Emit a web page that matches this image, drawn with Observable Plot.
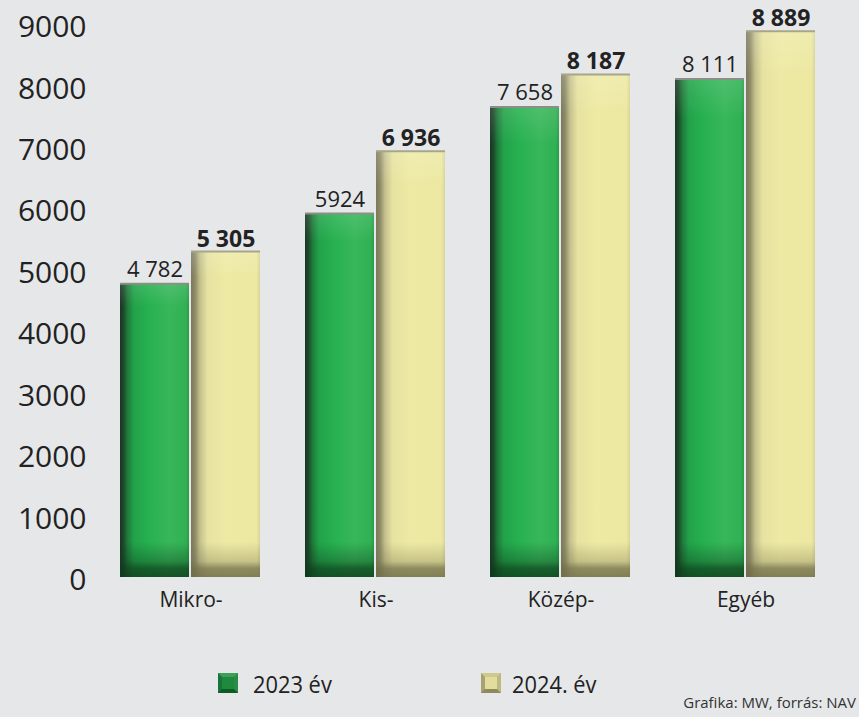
<!DOCTYPE html>
<html>
<head>
<meta charset="utf-8">
<script src="https://cdn.jsdelivr.net/npm/d3@7"></script>
<script src="https://cdn.jsdelivr.net/npm/@observablehq/plot@0.6"></script>
<style>
  html, body { margin: 0; padding: 0; background: #e6e7e9; }
  body { width: 859px; height: 717px; overflow: hidden; font-family: "Open Sans", sans-serif; color: #222; }
  #chart svg { display: block; background: #e6e7e9; }
  #legend { position: relative; width: 859px; height: 77px; }
  .sw { position: absolute; width: 20px; height: 20px; box-sizing: border-box; border-width: 4px; border-style: solid; }
  .lt { position: absolute; font-size: 24px; line-height: 28px; color: #222; transform-origin: 0 50%; transform: scaleX(0.91); white-space: nowrap; }
  #cap { position: absolute; right: 3px; font-size: 15px; line-height: 18px; color: #333; white-space: nowrap; }
</style>
</head>
<body>
<div id="chart"></div>
<div id="legend">
  <div class="sw" style="left:218px; top:33px; background:#1d8a3d; border-color:#3f9f5a #2a8d46 #0f5a24 #17743a;"></div>
  <div class="lt" style="left:253px; top:30px;">2023 év</div>
  <div class="sw" style="left:481px; top:33px; background:#e3dd9c; border-color:#cfc98e #beb882 #8f8a5e #a8a272;"></div>
  <div class="lt" style="left:512px; top:30px;">2024. év</div>
  <div id="cap" style="top:53px;">Grafika: MW, forrás: NAV</div>
</div>
<script>
const categories = ["Mikro-", "Kis-", "Közép-", "Egyéb"];
const years = ["2023 év", "2024. év"];
const values2023 = [4782, 5924, 7658, 8111];
const values2024 = [5305, 6936, 8187, 8889];
const labels2023 = ["4 782", "5924", "7 658", "8 111"];
const labels2024 = ["5 305", "6 936", "8 187", "8 889"];
const yTicks = [0, 1000, 2000, 3000, 4000, 5000, 6000, 7000, 8000, 9000];

const rows23 = categories.map((c, i) => ({cat: c, year: years[0], value: values2023[i], label: labels2023[i]}));
const rows24 = categories.map((c, i) => ({cat: c, year: years[1], value: values2024[i], label: labels2024[i]}));

const chart = Plot.plot({
  width: 859,
  height: 640,
  marginLeft: 117,
  marginRight: 39,
  marginTop: 24,
  marginBottom: 63,
  style: {fontFamily: "'Open Sans', sans-serif", background: "#e6e7e9", color: "#222"},
  fx: {domain: categories, paddingInner: 0.216, paddingOuter: 0, label: null, axis: null},
  x: {domain: years, padding: 0.028, axis: null},
  y: {domain: [0, 9000], axis: null},
  marks: [
    Plot.axisY({ticks: yTicks, tickSize: 0, tickPadding: 32, fontSize: 30, dy: 3, tickFormat: d => String(d), label: null, anchor: "left", fill: "#222"}),
    Plot.axisFx({anchor: "bottom", tickSize: 0, tickPadding: 15, fontSize: 21, label: null, fill: "#222"}),
    Plot.barY(rows23, {fx: "cat", x: "year", y: "value", fill: "url(#g23h)"}),
    Plot.barY(rows24, {fx: "cat", x: "year", y: "value", fill: "url(#g24h)"}),
    Plot.barY(rows23, {fx: "cat", x: "year", y: "value", fill: "url(#g23v)"}),
    Plot.barY(rows24, {fx: "cat", x: "year", y: "value", fill: "url(#g24v)"}),
    Plot.barY(rows23, {fx: "cat", x: "year", y: "value", fill: "url(#g23t)"}),
    Plot.barY(rows24, {fx: "cat", x: "year", y: "value", fill: "url(#g24t)"}),
    Plot.tickY(rows23, {fx: "cat", x: "year", y: "value", stroke: "#8c8f88", strokeWidth: 2}),
    Plot.tickY(rows24, {fx: "cat", x: "year", y: "value", stroke: "#a8a68a", strokeWidth: 2}),
    Plot.text(rows23, {fx: "cat", x: "year", y: "value", text: "label", lineAnchor: "bottom", dy: -7, fontSize: 22, fill: "#222"}),
    Plot.text(rows24, {fx: "cat", x: "year", y: "value", text: "label", lineAnchor: "bottom", dy: -5, fontSize: 23, fontWeight: "bold", fill: "#222"})
  ]
});

const defs = `
<defs>
  <linearGradient id="g23h" x1="0" x2="1" y1="0" y2="0">
    <stop offset="0" stop-color="#1a3524"/>
    <stop offset="0.05" stop-color="#1c4a2b"/>
    <stop offset="0.11" stop-color="#1f7a3a"/>
    <stop offset="0.2" stop-color="#22a24a"/>
    <stop offset="0.42" stop-color="#27b150"/>
    <stop offset="0.72" stop-color="#38b65a"/>
    <stop offset="0.95" stop-color="#30b153"/>
    <stop offset="1" stop-color="#2a9d4a"/>
  </linearGradient>
  <linearGradient id="g24h" x1="0" x2="1" y1="0" y2="0">
    <stop offset="0" stop-color="#7b785c"/>
    <stop offset="0.06" stop-color="#8e8b68"/>
    <stop offset="0.13" stop-color="#c4c08c"/>
    <stop offset="0.24" stop-color="#e6e2a0"/>
    <stop offset="0.5" stop-color="#eeeaa4"/>
    <stop offset="0.95" stop-color="#ece8a2"/>
    <stop offset="1" stop-color="#d8d494"/>
  </linearGradient>
  <linearGradient id="g23v" gradientUnits="userSpaceOnUse" x1="0" x2="0" y1="542" y2="577">
    <stop offset="0" stop-color="#0d3a1a" stop-opacity="0"/>
    <stop offset="0.55" stop-color="#0d3a1a" stop-opacity="0.35"/>
    <stop offset="0.75" stop-color="#0d3a1a" stop-opacity="0.7"/>
    <stop offset="1" stop-color="#0d3a1a" stop-opacity="0.8"/>
  </linearGradient>
  <linearGradient id="g24v" gradientUnits="userSpaceOnUse" x1="0" x2="0" y1="542" y2="577">
    <stop offset="0" stop-color="#6f6c48" stop-opacity="0"/>
    <stop offset="0.55" stop-color="#6f6c48" stop-opacity="0.3"/>
    <stop offset="0.75" stop-color="#6f6c48" stop-opacity="0.75"/>
    <stop offset="1" stop-color="#6f6c48" stop-opacity="0.85"/>
  </linearGradient>
  <linearGradient id="g23t" x1="0" x2="0" y1="0" y2="1">
    <stop offset="0" stop-color="#ffffff" stop-opacity="0.12"/>
    <stop offset="0.08" stop-color="#ffffff" stop-opacity="0"/>
  </linearGradient>
  <linearGradient id="g24t" x1="0" x2="0" y1="0" y2="1">
    <stop offset="0" stop-color="#ffffff" stop-opacity="0.15"/>
    <stop offset="0.08" stop-color="#ffffff" stop-opacity="0"/>
  </linearGradient>
</defs>`;
chart.insertAdjacentHTML("afterbegin", defs);
document.getElementById("chart").appendChild(chart);
</script>
</body>
</html>
